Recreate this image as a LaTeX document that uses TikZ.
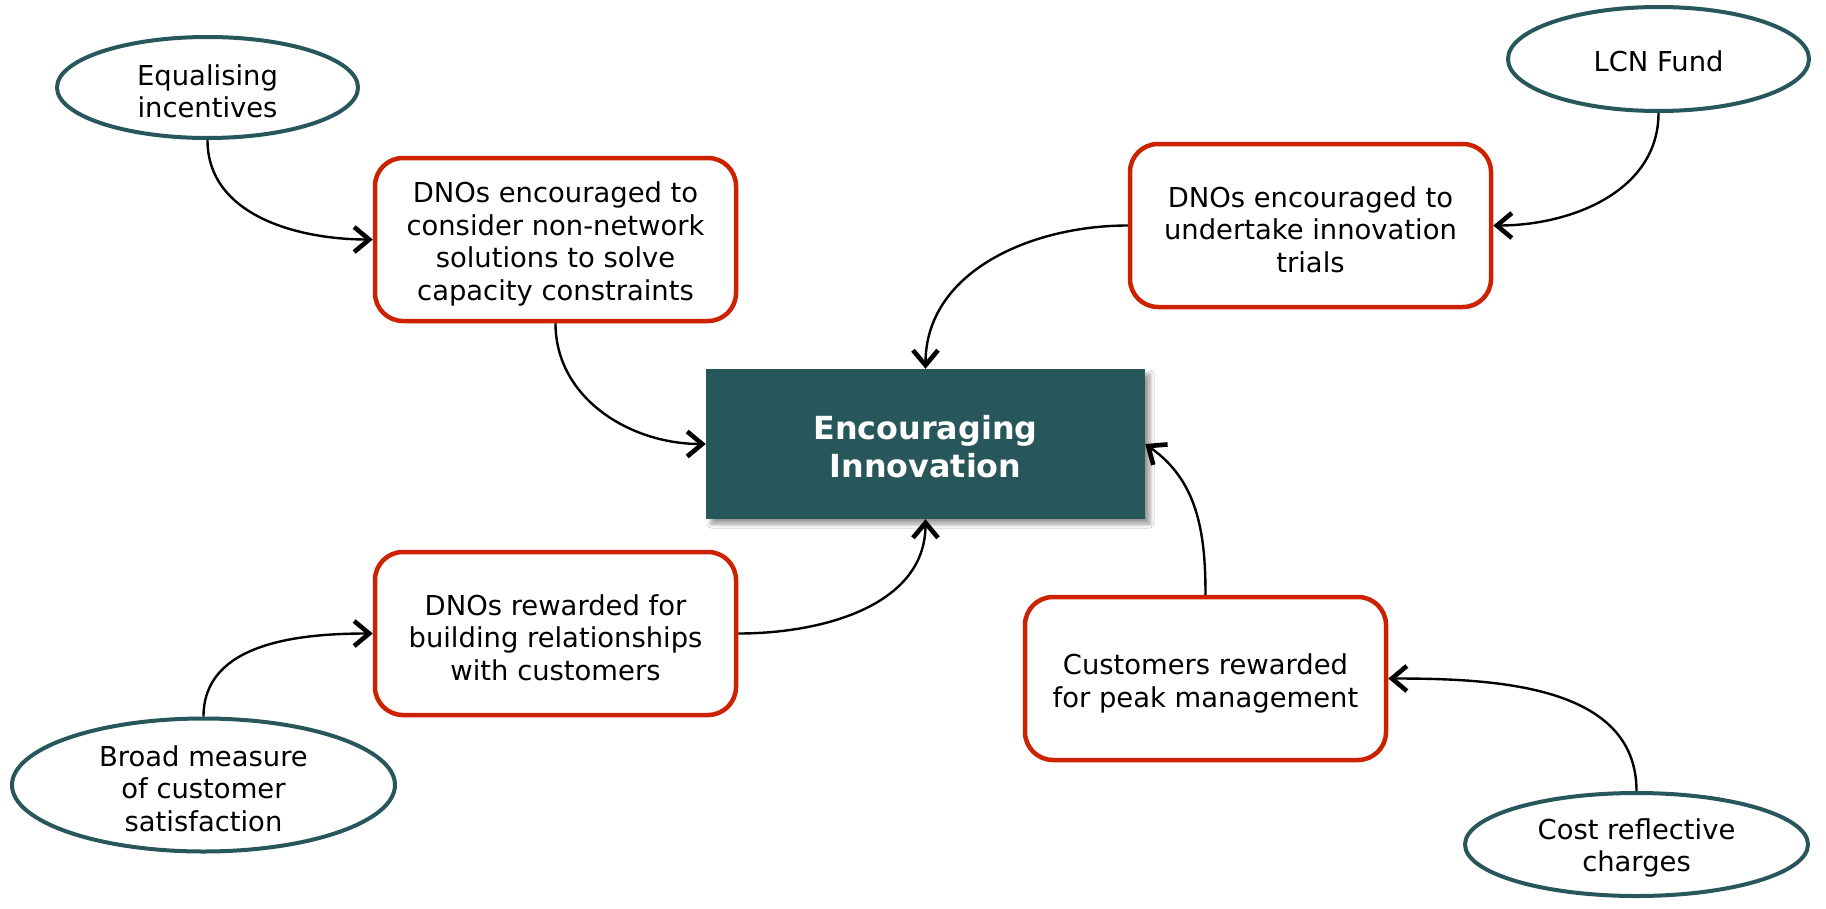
\documentclass[tikz,border=0pt]{standalone}
\usepackage{fontspec}
\setmainfont{DejaVu Sans}
\usetikzlibrary{shapes.geometric,arrows.meta,shadows.blur}
\definecolor{teal}{HTML}{27575B}
\definecolor{redb}{HTML}{CC2200}
\newcommand\topstrut[1]{\rule{0pt}{#1pt}}
\begin{document}
\begin{tikzpicture}[x=1pt,y=-1pt,
  txt/.style={font=\fontsize{27.4}{32.5}\selectfont, align=center, text=black},
  redbox/.style={txt, draw=redb, line width=4.5pt, rounded corners=28pt, fill=white,
     minimum width=361pt, minimum height=163pt, inner sep=0pt},
  oval/.style={txt, ellipse, draw=teal, line width=4pt, fill=white, inner sep=0pt},
  conn/.style={line width=2.4pt, -{Straight Barb[length=15pt,width=25pt,line width=4.6pt]}}]
\useasboundingbox (0,0) rectangle (1826,908);
\fill[white] (0,0) rectangle (1826,908);

\node[fill=teal, minimum width=439pt, minimum height=150pt, inner sep=0pt,
  blur shadow={shadow xshift=5pt, shadow yshift=-5pt, shadow blur steps=6, shadow blur radius=4pt},
  text=white, align=center, font=\fontsize{31.8}{38}\selectfont\bfseries]
  (center) at (925.5,444) {\topstrut{29}Encouraging\\Innovation};

\node[redbox] (b1) at (555.5,239.5) {\topstrut{30}DNOs encouraged to\\consider non-network\\solutions to solve\\capacity constraints};
\node[redbox] (b2) at (1310.5,225.5) {\topstrut{29}DNOs encouraged to\\undertake innovation\\trials};
\node[redbox] (b3) at (555.5,633.5) {\topstrut{29}DNOs rewarded for\\building relationships\\with customers};
\node[redbox] (b4) at (1205.5,678.5) {\topstrut{31}Customers rewarded\\for peak management};

\node[oval, minimum width=301pt, minimum height=101pt] (e1) at (207.5,87.5) {\topstrut{28}Equalising\\incentives};
\node[oval, minimum width=301pt, minimum height=104pt] (e2) at (1658.5,59) {\topstrut{26}LCN Fund};
\node[oval, minimum width=383pt, minimum height=133pt] (e3) at (203.5,785) {\topstrut{28}Broad measure\\of customer\\satisfaction};
\node[oval, minimum width=343pt, minimum height=103pt] (e4) at (1636.5,844.5) {\topstrut{28}Cost reflective\\charges};

\draw[conn] (e1.south) to[out=-90,in=180] (b1.west);
\draw[conn] (b1.south) to[out=-90,in=180] (center.west);
\draw[conn] (b2.west) to[out=180,in=90] (center.north);
\draw[conn] (e2.south) to[out=-90,in=0] (b2.east);
\draw[conn] (b3.east) to[out=0,in=-90] (center.south);
\draw[conn] (e3.north) to[out=90,in=180] (b3.west);
\draw[conn] (b4.north) to[out=90,in=-35] (center.east);
\draw[conn] (e4.north) to[out=90,in=0] (b4.east);
\end{tikzpicture}
\end{document}
